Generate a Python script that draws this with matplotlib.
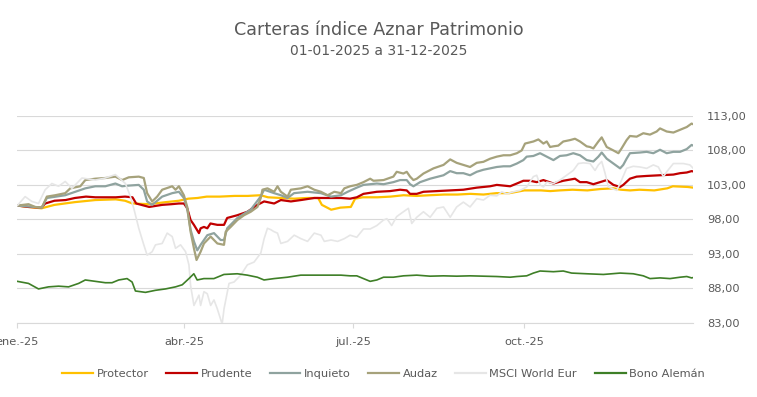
import matplotlib
matplotlib.use("Agg")
import matplotlib.pyplot as plt
from matplotlib.lines import Line2D

# ---------------- data (x = days since 01-01-2025) ----------------
protector_days = [0, 6, 13, 20, 31, 42, 53, 58, 62, 71, 80, 87, 92, 97, 102, 109, 117, 124, 131, 135,
                  142, 149, 156, 162, 164, 169, 174, 179.6, 181.9, 186, 194, 201, 208, 215, 222, 230,
                  237, 244, 251, 258, 265, 269, 273, 276, 282, 287, 292, 299, 307, 314, 321, 325, 330,
                  335, 343, 350, 353, 361, 364]
protector_vals = [100.0, 99.8, 99.6, 100.1, 100.5, 100.8, 100.9, 100.7, 100.3, 100.2, 100.5, 100.7, 101.0,
                  101.1, 101.3, 101.3, 101.4, 101.4, 101.5, 101.2, 101.1, 101.0, 101.1, 101.1, 100.1, 99.4,
                  99.7, 99.8, 101.0, 101.2, 101.2, 101.3, 101.5, 101.4, 101.5, 101.6, 101.6, 101.7, 101.6,
                  101.8, 101.8, 102.0, 102.2, 102.2, 102.2, 102.1, 102.2, 102.3, 102.2, 102.4, 102.5, 102.3,
                  102.2, 102.3, 102.2, 102.5, 102.8, 102.7, 102.6]

prudente_days = [0, 6, 13, 15, 20, 26, 31, 37, 42, 47, 53, 58, 62, 64, 71, 78, 83, 87, 89.7, 91.5, 93.3,
                 95.1, 97.8, 98.7, 100.5, 102.3, 104, 107.7, 111.3, 113, 118.5, 123.9, 129.3, 132.9, 138.3,
                 141.9, 147.3, 152.7, 159.9, 167, 174.3, 179.2, 182.8, 186.4, 193.6, 200.7, 206.1, 209.7,
                 211.5, 215.1, 218.7, 225.9, 233.1, 240.2, 247.4, 251, 254.6, 258.2, 265.4, 269, 272.5,
                 276.1, 279.7, 283.3, 288.7, 294, 300.3, 303, 306.6, 310.2, 313.8, 317.4, 321, 324.6, 326.3,
                 329.9, 333.5, 338.9, 346.1, 353.3, 356.9, 360.5, 363.1, 364]
prudente_vals = [100.0, 99.8, 99.7, 100.3, 100.7, 100.8, 101.1, 101.3, 101.2, 101.2, 101.2, 101.3, 101.2,
                 100.3, 99.8, 100.1, 100.2, 100.3, 100.3, 99.6, 97.9, 97.2, 96.0, 96.7, 96.9, 96.7, 97.4,
                 97.2, 97.2, 98.2, 98.6, 99.1, 100.1, 100.6, 100.3, 100.8, 100.6, 100.8, 101.1, 101.1, 101.1,
                 101.0, 101.2, 101.7, 102.0, 102.1, 102.3, 102.2, 101.7, 101.7, 102.0, 102.1, 102.2, 102.3,
                 102.6, 102.7, 102.8, 103.0, 102.8, 103.2, 103.6, 103.6, 103.4, 103.7, 103.2, 103.6, 103.9,
                 103.4, 103.4, 103.1, 103.4, 103.7, 103.0, 102.7, 103.0, 103.9, 104.2, 104.3, 104.4, 104.5,
                 104.7, 104.8, 105.0, 104.95]

inquieto_days = [0, 13.2, 15.9, 25.8, 31.2, 36.6, 42, 47.4, 52.8, 56.4, 60, 65.4, 68.1, 69.9, 72.6, 78,
                 83.4, 87, 89.7, 91.5, 93.3, 95.1, 96.9, 98.7, 102.3, 105.9, 109.5, 111.3, 113, 118.5, 125.7,
                 131, 132.9, 138.3, 141.9, 145.5, 149, 156.3, 163.5, 168.9, 174.3, 177.9, 182.8, 186.4, 190,
                 193.6, 197.2, 202.5, 206.1, 209.7, 211.5, 213.3, 216.9, 222.3, 229.5, 233.1, 236.6, 240.2,
                 243.8, 247.4, 251, 254.6, 258.2, 261.8, 265.4, 269, 272.5, 274.3, 277.9, 281.5, 285.1,
                 288.7, 292.2, 295.8, 299.4, 303, 306.6, 310.2, 312.9, 314.7, 317.4, 321, 324.6, 326.3,
                 328.1, 329.9, 335.3, 338.9, 342.5, 346.1, 349.7, 353.3, 356.9, 360.5, 363.1, 364]
inquieto_vals = [100.0, 99.7, 101.1, 101.5, 102.0, 102.5, 102.8, 102.8, 103.2, 102.8, 102.9, 103.0, 102.3,
                 100.6, 100.1, 101.3, 101.8, 102.0, 101.1, 99.5, 96.5, 94.8, 93.5, 94.3, 95.7, 96.0, 95.0,
                 95.0, 96.7, 98.2, 99.4, 101.3, 102.3, 101.8, 101.5, 101.1, 101.8, 102.0, 101.8, 101.3,
                 101.5, 102.0, 102.6, 103.0, 103.1, 103.2, 103.1, 103.4, 103.7, 103.7, 103.1, 102.8, 103.4,
                 103.9, 104.4, 105.0, 104.7, 104.7, 104.4, 104.9, 105.2, 105.4, 105.6, 105.7, 105.7, 106.1,
                 106.6, 107.1, 107.2, 107.6, 107.1, 106.6, 107.2, 107.3, 107.6, 107.3, 106.6, 106.4, 107.1,
                 107.7, 106.8, 106.1, 105.4, 105.9, 106.8, 107.6, 107.7, 107.8, 107.6, 108.1, 107.6, 107.8,
                 107.8, 108.2, 108.8, 108.7]

audaz_days = [0, 6, 9.6, 13.2, 15.9, 20.4, 25.8, 28.5, 33.9, 36.6, 42, 47.4, 52.8, 56.4, 60, 65.4, 68.1,
              69.9, 72.6, 75.3, 78, 83.4, 85.2, 87, 89.7, 91.5, 93.3, 95.1, 96.5, 98.7, 100.5, 102.3, 104.1,
              105.9, 107.7, 111.3, 112.2, 114.9, 118.5, 122.1, 125.7, 129.3, 131.1, 132, 134.7, 138.3, 140.1,
              141.9, 145.5, 147.3, 152.7, 156.3, 159.9, 163.5, 167.1, 170.7, 174.3, 176.1, 179.2, 182.8,
              186.4, 190, 191.8, 197.2, 202.5, 204.3, 207.9, 209.7, 211.5, 213.3, 215.1, 218.7, 224.1,
              229.5, 233.1, 236.6, 240.2, 243.8, 247.4, 251, 254.6, 258.2, 261.8, 265.4, 269, 271.6, 273.4,
              277.9, 280.6, 283.3, 285.1, 286.9, 288.7, 291.3, 294, 297.6, 300.3, 303, 306.6, 308.4, 310.2,
              312.9, 314.7, 317.4, 321, 323.7, 325.4, 328.1, 329.9, 333.5, 337.1, 340.7, 344.3, 346.1,
              349.7, 353.3, 356.9, 360.5, 363.1, 364]
audaz_vals = [100.0, 100.2, 99.8, 99.7, 101.3, 101.5, 101.8, 102.5, 102.8, 103.7, 103.9, 104.0, 104.2,
              103.7, 104.1, 104.2, 104.0, 101.8, 100.6, 101.3, 102.3, 102.8, 102.3, 102.8, 101.5, 99.8,
              96.2, 93.8, 92.1, 93.3, 94.5, 95.0, 95.5, 95.0, 94.5, 94.3, 96.2, 96.9, 97.9, 98.6, 99.1,
              99.8, 101.1, 102.3, 102.5, 102.0, 102.8, 102.0, 101.3, 102.3, 102.5, 102.8, 102.3, 102.0,
              101.5, 102.0, 101.8, 102.5, 102.8, 103.0, 103.4, 103.9, 103.6, 103.7, 104.2, 104.9, 104.65,
              104.9, 104.2, 103.7, 103.9, 104.65, 105.4, 105.9, 106.7, 106.2, 105.9, 105.6, 106.2, 106.35,
              106.8, 107.1, 107.3, 107.3, 107.6, 108.0, 109.0, 109.3, 109.6, 109.0, 109.3, 108.5, 108.6,
              108.7, 109.3, 109.5, 109.7, 109.3, 108.6, 108.5, 108.3, 109.3, 109.9, 108.5, 108.0, 107.6,
              108.3, 109.5, 110.1, 110.0, 110.5, 110.3, 110.75, 111.2, 110.75, 110.6, 111.0, 111.4, 111.9,
              111.8]

msci_days = [0, 4.2, 7.8, 11.4, 15, 18.6, 22.2, 25.8, 29.4, 34.8, 42, 47.4, 52.8, 58.2, 60.9, 62.7, 65.4,
             68.1, 69.9, 72.6, 74.4, 78, 80.7, 83.4, 85.2, 87.9, 90.6, 92.4, 93.3, 95.1, 97.8, 98.7, 100.5,
             102.3, 104.1, 105.9, 107.7, 110.3, 111.3, 114, 116.7, 120.3, 123.9, 127.5, 131.1, 132.9, 134.7,
             136.5, 138.3, 140.1, 141.9, 145.5, 149.1, 152.7, 156.3, 159.9, 163.5, 165.3, 168.9, 172.5,
             176.1, 179.2, 182.8, 186.4, 190, 193.6, 197.2, 199, 201.6, 204.3, 207.9, 210.6, 212.4, 215.1,
             218.7, 222.3, 225.9, 229.5, 233.1, 236.6, 240.2, 243.8, 247.4, 251, 254.6, 258.2, 260.9, 263.6,
             267.2, 270.7, 274.3, 277.9, 279.7, 281.5, 283.3, 285.1, 288.7, 292.2, 295.8, 299.4, 302.1,
             304.8, 308.4, 311.1, 312.9, 314.7, 316.5, 318.3, 322.8, 324.6, 328.1, 331.7, 335.3, 338.9,
             342.5, 345.2, 347.9, 349.7, 353.3, 358.7, 362.2, 364]
msci_vals = [100.0, 101.3, 100.6, 100.3, 102.3, 103.2, 102.8, 103.5, 102.5, 104.0, 103.7, 104.0, 104.5,
             103.2, 101.3, 99.6, 96.7, 94.3, 92.8, 93.3, 94.3, 94.5, 96.0, 95.5, 93.8, 94.3, 93.3, 91.4,
             88.4, 85.5, 87.0, 85.5, 87.5, 87.2, 85.5, 86.3, 85.0, 82.8, 85.0, 88.7, 88.9, 89.9, 91.4, 91.8,
             93.1, 95.2, 96.7, 96.5, 96.2, 96.0, 94.5, 94.8, 95.7, 95.2, 94.8, 96.0, 95.7, 94.8, 95.0, 94.8,
             95.2, 95.7, 95.4, 96.6, 96.6, 97.1, 97.9, 98.1, 97.1, 98.4, 99.1, 99.6, 97.4, 98.3, 99.1, 98.3,
             99.6, 99.8, 98.3, 99.8, 100.5, 99.8, 101.0, 100.8, 101.5, 101.4, 102.0, 101.7, 102.0, 102.2,
             102.7, 104.2, 104.4, 103.0, 102.7, 103.4, 103.2, 103.7, 104.4, 105.1, 106.1, 106.2, 106.1,
             105.1, 105.9, 106.4, 104.7, 102.7, 102.2, 103.2, 105.4, 105.7, 105.6, 105.4, 105.9, 105.6,
             104.2, 104.9, 106.1, 106.1, 105.9, 105.4]

bono_days = [0, 6, 11.4, 16.8, 22.2, 27.6, 33, 36.6, 42, 47.4, 51, 54.6, 59.1, 61.8, 63.6, 69, 74.4, 79.8,
             85.2, 88.8, 92.4, 95.05, 96.85, 100.45, 105.85, 111.25, 118.45, 123.85, 129.25, 132.85, 138.25,
             145.45, 152.65, 163.45, 174.25, 179.2, 182.8, 186.4, 190, 193.6, 197.2, 202.5, 207.9, 215.1,
             222.3, 229.5, 236.6, 243.8, 251, 258.2, 265.4, 269, 274.3, 277.9, 281.5, 288.7, 294, 298.5,
             306.6, 315.6, 324.6, 331.7, 337.1, 340.7, 346.1, 351.5, 356.9, 360.5, 363.1, 364]
bono_vals = [89.0, 88.7, 87.9, 88.2, 88.3, 88.2, 88.7, 89.2, 89.0, 88.8, 88.8, 89.2, 89.4, 88.9, 87.6, 87.4,
             87.7, 87.9, 88.2, 88.5, 89.4, 90.1, 89.2, 89.4, 89.4, 90.0, 90.1, 89.9, 89.6, 89.2, 89.4, 89.6,
             89.9, 89.9, 89.9, 89.8, 89.8, 89.4, 89.0, 89.2, 89.6, 89.6, 89.8, 89.9, 89.75, 89.8, 89.75,
             89.8, 89.75, 89.7, 89.6, 89.7, 89.8, 90.2, 90.5, 90.4, 90.5, 90.2, 90.1, 90.0, 90.2, 90.1, 89.8,
             89.4, 89.5, 89.4, 89.6, 89.7, 89.5, 89.55]

series_names = ["Protector", "Prudente", "Inquieto", "Audaz", "MSCI World Eur", "Bono Alemán"]
x_tick_days = [0, 90, 181, 273]
x_tick_labels = ["ene.-25", "abr.-25", "jul.-25", "oct.-25"]
y_ticks = [83, 88, 93, 98, 103, 108, 113]

title = "Carteras índice Aznar Patrimonio"
subtitle = "01-01-2025 a 31-12-2025"

# ---------------- styling ----------------
colors = ["#FFC000", "#C00000", "#8FA39F", "#A6A27B", "#E6E6E6", "#3E7F27"]
widths = [1.6, 1.6, 1.6, 1.6, 1.2, 1.2]
text_color = "#595959"
grid_color = "#D9D9D9"

plt.rcParams["font.family"] = ["DejaVu Sans"]

fig = plt.figure(figsize=(7.57, 3.97), dpi=100)
ax = fig.add_axes([0.0229, 0.1872, 0.9158 - 0.0229, 0.7078 - 0.1872])

data = [(protector_days, protector_vals), (prudente_days, prudente_vals),
        (inquieto_days, inquieto_vals), (audaz_days, audaz_vals),
        (msci_days, msci_vals), (bono_days, bono_vals)]
handles = []
for (d, v), name, c, w in zip(data, series_names, colors, widths):
    assert len(d) == len(v), name
    ln, = ax.plot(d, v, color=c, lw=w, solid_joinstyle="round", label=name)
    handles.append(Line2D([], [], color=c, lw=1.6))

ax.set_xlim(0, 364)
ax.set_ylim(83, 113)
ax.set_yticks(y_ticks)
ax.set_yticklabels([f"{t:.2f}".replace(".", ",") for t in y_ticks])
ax.yaxis.tick_right()
ax.tick_params(axis="y", length=0, pad=10, labelsize=8.2, labelcolor=text_color)
ax.set_xticks(x_tick_days)
ax.set_xticklabels(x_tick_labels)
ax.tick_params(axis="x", length=3.3, width=0.8, color=grid_color, pad=7,
               labelsize=8.2, labelcolor=text_color, direction="out")
ax.grid(axis="y", color=grid_color, lw=0.8)
ax.set_axisbelow(True)
for s in ["left", "right", "top"]:
    ax.spines[s].set_visible(False)
ax.spines["bottom"].set_color(grid_color)
ax.spines["bottom"].set_linewidth(0.8)
ax.spines["bottom"].set_zorder(0.5)

fig.text(0.5007, 0.9126, title, ha="center", va="baseline", fontsize=12.6, color=text_color)
fig.text(0.5007, 0.862, subtitle, ha="center", va="baseline", fontsize=10, color=text_color)

fig.legend(handles, series_names, loc="center", bbox_to_anchor=(0.5066, 0.058), ncol=6,
           frameon=False, fontsize=8.2, handlelength=2.7, handletextpad=0.3,
           columnspacing=1.55, labelcolor=text_color)

fig.savefig("out.png", dpi=100)
